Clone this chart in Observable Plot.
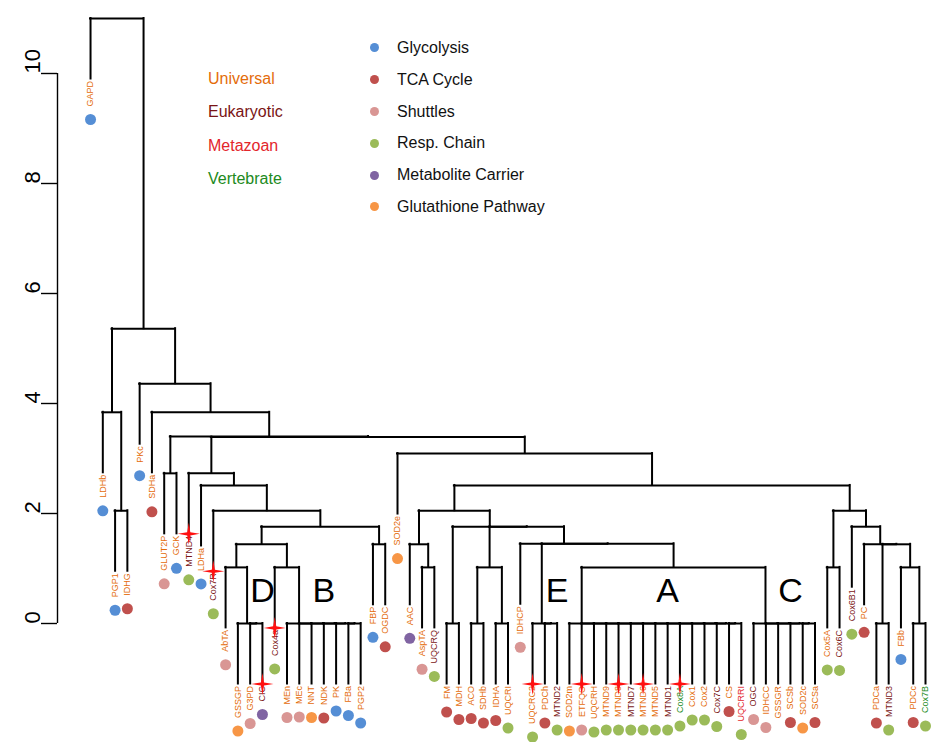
<!DOCTYPE html>
<html>
<head>
<meta charset="utf-8">
<script src="https://cdn.jsdelivr.net/npm/d3@7"></script>
<script src="https://cdn.jsdelivr.net/npm/@observablehq/plot@0.6"></script>
<style>
  body { margin: 0; background: #fff; font-family: Arial, "Liberation Sans", sans-serif; }
  #wrap { position: relative; width: 931px; height: 742px; overflow: hidden; }
  .lg { position: absolute; font-size: 16px; white-space: nowrap; }
  .lg div { display: flex; align-items: center; }
  .sw { width: 9px; height: 9px; border-radius: 50%; display: inline-block; margin-right: 18px; }
</style>
</head>
<body>
<div id="wrap"></div>
<script>
// ---------------- data ----------------
const leaves = ["GAPD","LDHb","PGP1","IDHG","PKc","SDHa","GLUT2P","GCK","MTND4","LDHa","Cox7R","AbTA","GSSGP","G3PD","CIC","Cox4a","MEn","MEc","NNT","NDK","PK","FBa","PGP2","FBP","OGDC","SOD2e","AAC","AspTA","UQCRQ","FM","MDH","ACO","SDHb","IDHA","UQCRI","IDHCP","UQCRC2","PDCh","MTND2","SOD2m","ETFQO","UQCRH","MTND9","MTND8","MTND7","MTND6","MTND5","MTND1","Cox8A","Cox1","Cox2","Cox7C","CS","UQCRRI","OGC","IDHCC","GSSGR","SCSb","SOD2c","SCSa","Cox5A","Cox6C","Cox6B1","PC","PDCa","MTND3","FBb","PDCc","Cox7B"];

// evolutionary origin of each leaf (label colour)
const origin = ["U","U","U","U","U","U","U","U","E","U","E","U","U","U","E","E","U","U","U","U","U","U","U","U","U","U","U","U","E","U","U","U","U","U","U","U","U","U","E","U","U","U","U","U","E","U","U","E","V","U","U","E","U","M","E","U","U","U","U","U","U","E","E","U","U","E","U","U","V"];

// pathway of each leaf (dot colour); null = no dot
const pathway = ["Gly","Gly","Gly","TCA","Gly","TCA","Shu","Gly","Resp","Gly","Resp","Shu","Glu","Shu","Car","Resp","Shu","Shu","Glu","TCA","Gly","Gly","Gly","Gly","TCA","Glu","Car","Shu","Resp","TCA","TCA","TCA","TCA","TCA","Resp","Shu","Resp","TCA","Resp","Glu","Shu","Resp","Resp","Resp","Resp","Resp","Resp","Resp","Resp","Resp","Resp","Resp","TCA","Resp","Shu","Shu",null,"TCA","Glu","TCA","Resp","Resp","Resp","TCA","TCA","Resp","Gly","TCA","Resp"];

// merges: [left, right, height]; string = leaf, number = earlier merge row
const merges = [
  ["PGP1","IDHG",2.05],      // 0
  ["LDHb",0,3.84],           // 1
  ["GLUT2P","GCK",2.73],     // 2
  ["G3PD","CIC",0],          // 3
  ["GSSGP",3,0],             // 4
  ["AbTA",4,1.02],           // 5  D
  ["FBa","PGP2",0],          // 6
  ["PK",6,0],                // 7
  ["NDK",7,0],               // 8
  ["NNT",8,0],               // 9
  ["MEc",9,0],               // 10
  ["MEn",10,0],              // 11
  ["Cox4a",11,1.02],         // 12 B
  [5,12,1.44],               // 13
  ["FBP","OGDC",1.44],       // 14
  [13,14,1.76],              // 15
  ["Cox7R",15,2.05],         // 16
  ["LDHa",16,2.51],          // 17
  ["MTND4",17,2.73],         // 18
  ["AspTA","UQCRQ",1.02],    // 19
  ["AAC",19,1.44],           // 20
  ["FM","MDH",0],            // 21
  ["ACO","SDHb",0],          // 22
  ["IDHA","UQCRI",0],        // 23
  [22,23,1.02],              // 24
  ["PDCh","MTND2",0],        // 25
  ["UQCRC2",25,0],           // 26 E
  ["CS","UQCRRI",0],         // 27
  ["Cox7C",27,0],            // 28
  ["Cox2",28,0],             // 29
  ["Cox1",29,0],             // 30
  ["Cox8A",30,0],            // 31
  ["MTND1",31,0],            // 32
  ["MTND5",32,0],            // 33
  ["MTND6",33,0],            // 34
  ["MTND7",34,0],            // 35
  ["MTND8",35,0],            // 36
  ["MTND9",36,0],            // 37
  ["UQCRH",37,0],            // 38
  ["ETFQO",38,0],            // 39
  ["SOD2m",39,0],            // 40 A
  ["SOD2c","SCSa",0],        // 41
  ["SCSb",41,0],             // 42
  ["GSSGR",42,0],            // 43
  ["IDHCC",43,0],            // 44
  ["OGC",44,0],              // 45 C
  [40,45,1.02],              // 46
  [26,46,1.45],              // 47
  ["IDHCP",47,1.45],         // 48
  [24,48,1.76],              // 49
  [21,49,1.76],              // 50
  [20,50,2.05],              // 51
  ["Cox5A","Cox6C",1.02],    // 52
  ["PDCa","MTND3",0],        // 53
  ["PDCc","Cox7B",0],        // 54
  ["FBb",54,1.02],           // 55
  [53,55,1.44],              // 56
  ["PC",56,1.44],            // 57
  ["Cox6B1",57,1.76],        // 58
  [52,58,2.05],              // 59
  [51,59,2.51],              // 60
  ["SOD2e",60,3.09],         // 61
  [18,61,3.39],              // 62
  [2,62,3.40],               // 63
  ["SDHa",63,3.84],          // 64
  ["PKc",64,4.36],           // 65
  [1,65,5.36],               // 66
  ["GAPD",66,11.0]           // 67
];

const starred = ["MTND4","Cox7R","Cox4a","CIC","UQCRC2","ETFQO","MTND8","MTND6","Cox8A"];
const clusterNames = ["D","B","E","A","C"];
const clusterLeaf = ["CIC","NDK","MTND2","MTND1","SCSb"];
const clusterHeight = 0.58;
const yTicks = [0, 2, 4, 6, 8, 10];

const originCodes = ["U","E","M","V"];
const originNames = ["Universal","Eukaryotic","Metazoan","Vertebrate"];
const pathwayCodes = ["Gly","TCA","Shu","Resp","Car","Glu"];
const pathwayNames = ["Glycolysis","TCA Cycle","Shuttles","Resp. Chain","Metabolite Carrier","Glutathione Pathway"];

// ---------------- styles ----------------
const originColor = {U: "#E46C0A", E: "#7A1515", M: "#E3262B", V: "#218A21"};
const pathColor = {Gly: "#558ED5", TCA: "#C0504D", Shu: "#D99694", Resp: "#9BBB59", Car: "#8064A2", Glu: "#F79646"};
const W = 931, H = 742, mTop = 18, mBottom = 119, mLeft = 57, mRight = 6;
const axisGap = 2.69;          // axis sits this many leaf spacings left of the first leaf
const labelSize = 9;

// ---------------- layout (R plot.hclust style) ----------------
const leafIndex = new Map(leaves.map((n, i) => [n, i + 1]));
const hang = 0.1 * d3.max(merges, m => m[2]);
const yMax = d3.max(merges, m => m[2]);
const pxPerUnit = (H - mTop - mBottom) / yMax;
const nodeX = [], nodeH = [];
const horiz = [], vert = [], leafRows = [];
const ctx = document.createElement("canvas").getContext("2d");
ctx.font = `${labelSize}px Arial, "Liberation Sans"`;

merges.forEach(([a, b, h], k) => {
  const xs = [a, b].map(c => typeof c === "string" ? leafIndex.get(c) : nodeX[c]);
  nodeX[k] = (xs[0] + xs[1]) / 2;
  nodeH[k] = h;
  horiz.push({x1: xs[0], x2: xs[1], y: h});
  [a, b].forEach((c, j) => {
    if (typeof c === "string") {
      const i = leafIndex.get(c) - 1;
      const end = h - hang;
      leafRows.push({name: c, x: xs[j], end, origin: origin[i], pathway: pathway[i],
                     w: ctx.measureText(c).width});
      vert.push({x: xs[j], y1: end, y2: h});
    } else {
      vert.push({x: xs[j], y1: nodeH[c], y2: h});
    }
  });
});

const star4 = {
  draw(context, size) {
    const R = Math.sqrt(size / Math.PI), r = R * 0.2;
    for (let i = 0; i < 8; i++) {
      const a = Math.PI / 4 * i - Math.PI / 2;
      const rr = i % 2 ? r : R;
      const px = rr * Math.cos(a), py = rr * Math.sin(a);
      if (i) context.lineTo(px, py); else context.moveTo(px, py);
    }
    context.closePath();
  }
};

const xDomain = [1 - axisGap, leaves.length];

const chart = Plot.plot({
  width: W, height: H,
  marginTop: mTop, marginBottom: mBottom, marginLeft: mLeft, marginRight: mRight,
  x: {domain: xDomain, axis: null},
  y: {domain: [0, yMax], axis: null},
  style: {fontFamily: 'Arial, "Liberation Sans", sans-serif', background: "white"},
  marks: [
    // y axis
    Plot.ruleX([xDomain[0]], {y1: yTicks[0], y2: yTicks[yTicks.length - 1], stroke: "black", strokeWidth: 1.4}),
    Plot.axisY({ticks: yTicks, anchor: "left", tickSize: 16, tickFormat: () => "", label: null, strokeWidth: 1.4}),
    Plot.text(yTicks, {y: d => d, text: d => String(d), frameAnchor: "left", dx: -25, rotate: -90,
                       fontSize: 22, fill: "black"}),
    // dendrogram
    Plot.ruleY(horiz, {y: "y", x1: "x1", x2: "x2", stroke: "black", strokeWidth: 2, strokeLinecap: "square"}),
    Plot.ruleX(vert, {x: "x", y1: "y1", y2: "y2", stroke: "black", strokeWidth: 2, strokeLinecap: "square"}),
    // leaf labels
    Plot.text(leafRows, {x: "x", y: "end", text: "name", rotate: -90, textAnchor: "end", dy: 2,
                         fontSize: labelSize, fill: d => originColor[d.origin]}),
    // pathway dots
    Plot.dot(leafRows.filter(d => d.pathway), {x: "x", y: d => d.end - (d.w + 15) / pxPerUnit,
                         r: 5.5, fill: d => pathColor[d.pathway], stroke: null}),
    // stars
    Plot.dot(leafRows.filter(d => starred.includes(d.name)), {x: "x", y: "end", symbol: star4, r: 11,
                         fill: "#FF1010", stroke: null}),
    // cluster letters
    Plot.text(clusterNames, {x: (d, i) => leafIndex.get(clusterLeaf[i]), y: () => clusterHeight,
                             text: d => d, fontSize: 34, fill: "black"})
  ]
});

const wrap = document.getElementById("wrap");
wrap.appendChild(chart);

// legends (inside the plot area, as in the reference)
const lgO = document.createElement("div");
lgO.className = "lg";
lgO.style.left = "208px"; lgO.style.top = "62px"; lgO.style.lineHeight = "33.3px";
originCodes.forEach((c, i) => {
  const d = document.createElement("div");
  d.textContent = originNames[i];
  d.style.color = originColor[c];
  lgO.appendChild(d);
});
wrap.appendChild(lgO);

const lgP = document.createElement("div");
lgP.className = "lg";
lgP.style.left = "370px"; lgP.style.top = "32px"; lgP.style.lineHeight = "31.8px";
pathwayCodes.forEach((c, i) => {
  const d = document.createElement("div");
  const s = document.createElement("span");
  s.className = "sw"; s.style.background = pathColor[c];
  d.appendChild(s);
  d.appendChild(document.createTextNode(pathwayNames[i]));
  d.style.color = "#111";
  lgP.appendChild(d);
});
wrap.appendChild(lgP);
</script>
</body>
</html>
